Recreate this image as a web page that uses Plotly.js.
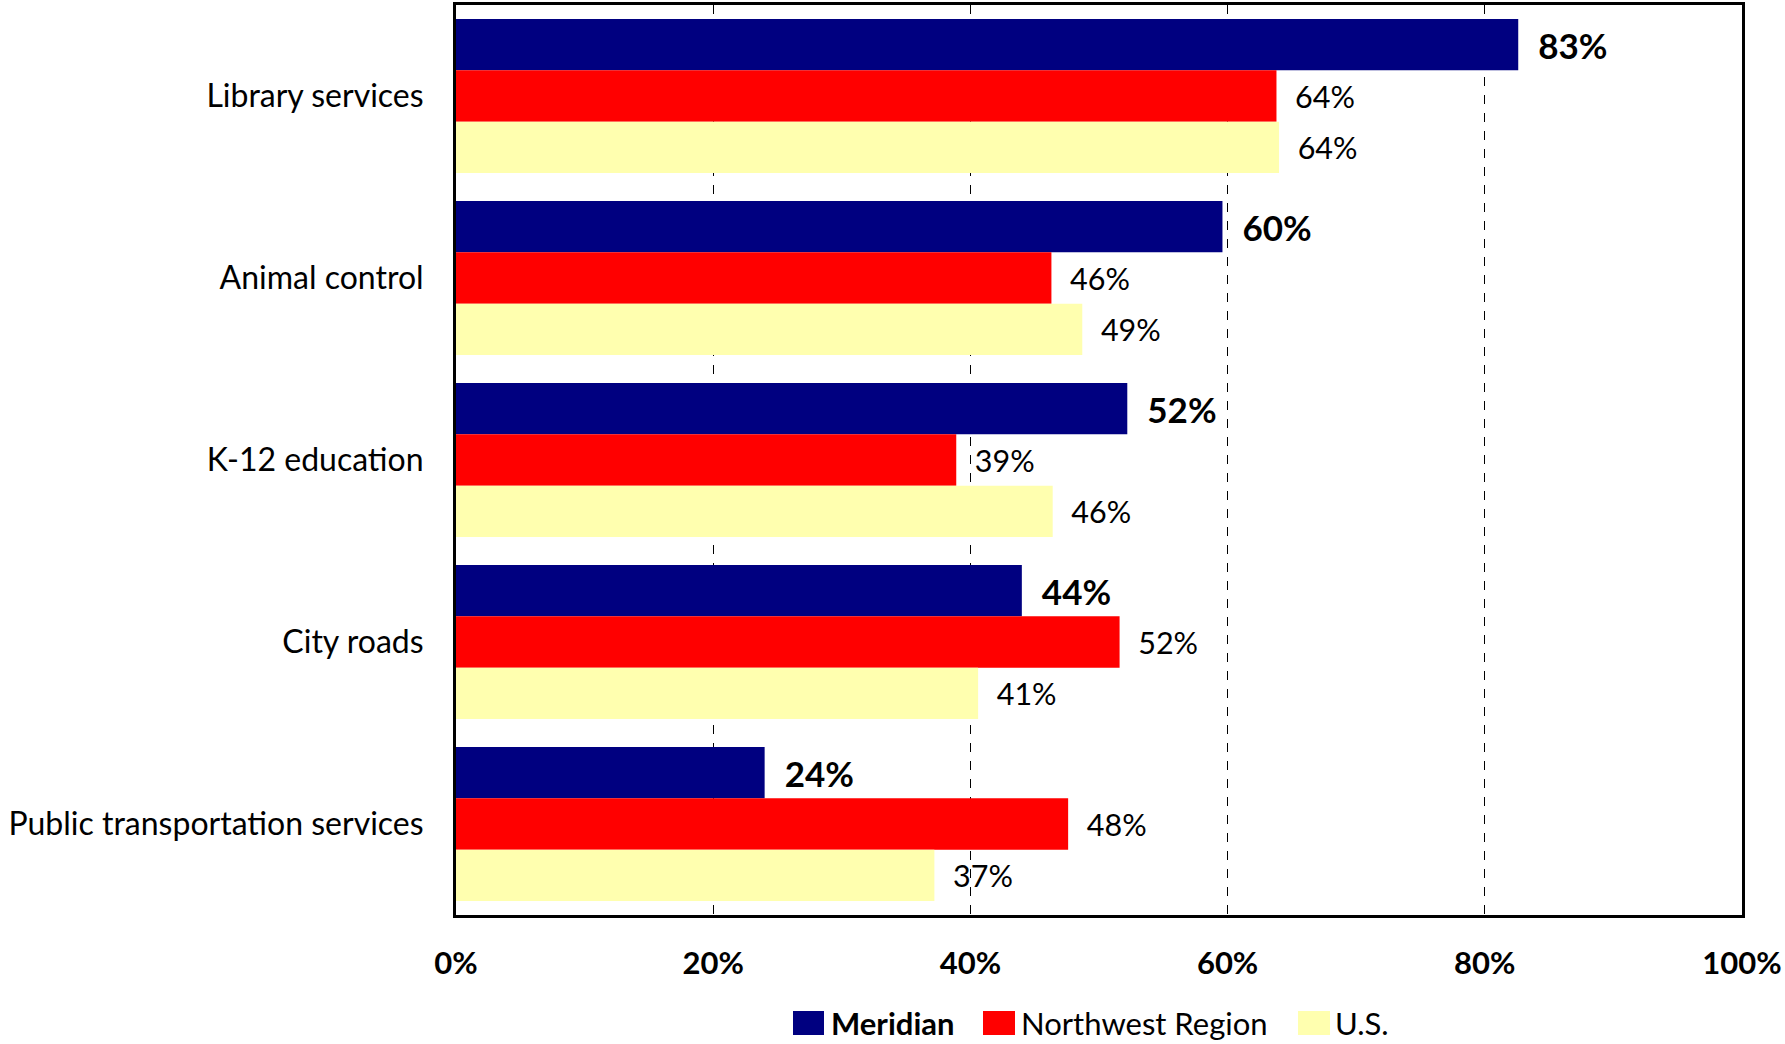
<!DOCTYPE html>
<html>
<head>
<meta charset="utf-8">
<script src="https://cdn.plot.ly/plotly-3.0.1.min.js"></script>
<style>html,body{margin:0;padding:0;background:#fff;}#chart{width:1785px;height:1044px;}</style>
</head>
<body>
<div id="chart"></div>
<script>
const categories = ["Library services", "Animal control", "K-12 education", "City roads", "Public transportation services"];
const seriesNames = ["Meridian", "Northwest Region", "U.S."];
const meridian = [82.6, 59.6, 52.2, 44.0, 24.0];
const northwest = [63.8, 46.3, 38.9, 51.6, 47.6];
const us = [64.0, 48.7, 46.4, 40.6, 37.2];
const xTickVals = [0, 20, 40, 60, 80, 100];
const xTickText = ["0%", "20%", "40%", "60%", "80%", "100%"];

const colors = ["#000080", "#FF0000", "#FFFFAF"];
const FONT = "Lato, 'Open Sans', sans-serif";

// plot area in pixels
const W = 1785, H = 1044;
const L = 456, R = 1742, T = 5, B = 915;
const px = x => (x - L) / (R - L);
const py = y => (B - y) / (B - T);

const seriesValues = [meridian, northwest, us];
const traces = seriesValues.map((vals, i) => ({
  type: "bar",
  orientation: "h",
  name: seriesNames[i],
  y: categories,
  x: vals,
  marker: {color: colors[i], line: {width: 0}},
  texttemplate: "\u00a0\u00a0%{x:.0f}%",
  textposition: "outside",
  cliponaxis: false,
  textfont: i === 0
    ? {family: FONT, size: 35, color: "#000", weight: "bold"}
    : {family: FONT, size: 30.5, color: "#000"},
  hoverinfo: "skip"
}));

const shapes = [];
const annotations = [];
const legendItems = [
  {sx0: 793, sx1: 824, tx: 829, bold: true},
  {sx0: 983, sx1: 1015, tx: 1019, bold: false},
  {sx0: 1298, sx1: 1330, tx: 1333, bold: false}
];
legendItems.forEach((it, i) => {
  shapes.push({type: "rect", xref: "paper", yref: "paper",
    x0: px(it.sx0), x1: px(it.sx1), y0: py(1035), y1: py(1011),
    fillcolor: colors[i], line: {width: 0}});
  annotations.push({xref: "paper", yref: "paper", x: px(it.tx), y: py(1023),
    xanchor: "left", yanchor: "middle", showarrow: false,
    text: it.bold ? "<b>" + seriesNames[i] + "</b>" : seriesNames[i],
    font: {family: FONT, size: 31, color: "#000"}});
});

const layout = {
  width: W, height: H,
  margin: {l: L, r: W - R, t: T, b: H - B, pad: 0},
  paper_bgcolor: "#fff", plot_bgcolor: "#fff",
  barmode: "group", bargap: 0.153, bargroupgap: 0,
  showlegend: false,
  font: {family: FONT, color: "#000"},
  xaxis: {
    range: [0, 100], tickvals: xTickVals, ticktext: xTickText,
    showgrid: true, gridcolor: "#000", gridwidth: 1, griddash: "dash",
    zeroline: false, showline: true, mirror: true, linecolor: "#000", linewidth: 3,
    ticks: "", ticklabelstandoff: 19,
    tickfont: {family: FONT, size: 31, color: "#000", weight: "bold"},
    fixedrange: true
  },
  yaxis: {
    autorange: "reversed", type: "category",
    showgrid: false, zeroline: false, showline: true, mirror: true,
    linecolor: "#000", linewidth: 3, ticks: "", ticklabelstandoff: 23,
    tickfont: {family: FONT, size: 32, color: "#000"},
    fixedrange: true
  },
  shapes: shapes,
  annotations: annotations
};

Plotly.newPlot("chart", traces, layout, {displayModeBar: false, staticPlot: true});
</script>
</body>
</html>
